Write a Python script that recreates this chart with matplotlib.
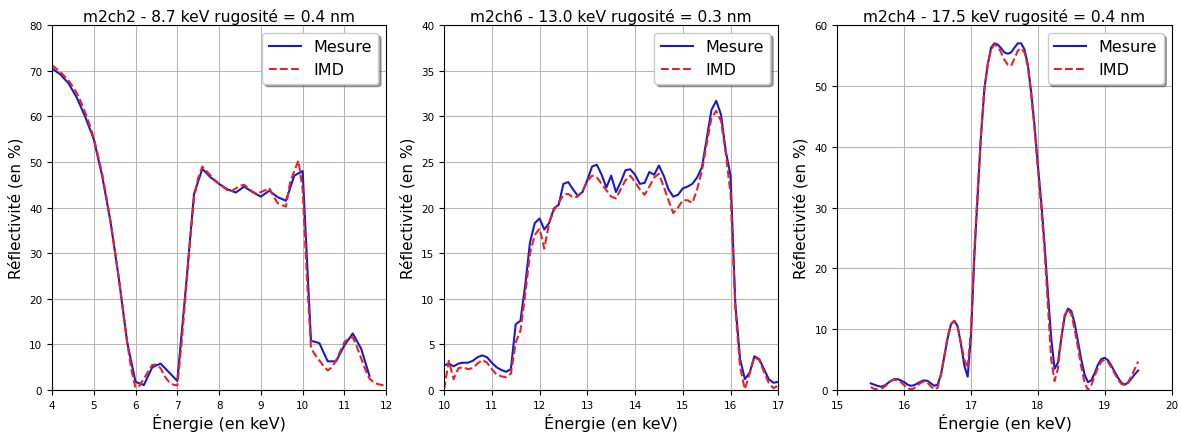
import numpy as np
import matplotlib
matplotlib.use("Agg")
import matplotlib.pyplot as plt

# panneau 1 : m2ch2
titre1 = "m2ch2 - 8.7 keV rugosité = 0.4 nm"
e_mes1 = np.linspace(4.0, 11.6, 39)
r_mes1 = [70.5, 69.2, 67.2, 64.0, 59.8, 55.0, 47.0, 37.0, 24.5, 10.5,
          1.8, 1.1, 5.0, 5.8, 3.9, 2.0, 22.0, 43.0, 48.5, 46.6,
          45.2, 44.0, 43.3, 44.6, 43.4, 42.4, 43.7, 42.3, 41.5, 47.0,
          48.0, 10.8, 10.3, 6.3, 6.3, 9.8, 12.4, 9.1, 3.1]
e_imd1 = np.linspace(4.0, 12.0, 81)
r_imd1 = [71.2, 70.5, 69.7, 68.8, 67.8, 66.5, 65.0, 63.0, 60.7, 58.2,
          55.3, 51.5, 47.5, 42.5, 37.0, 31.0, 24.5, 17.5, 10.5, 4.5,
          0.5, 1.0, 2.5, 4.0, 5.5, 5.6, 4.8, 3.0, 1.8, 1.2,
          1.0, 10.0, 21.0, 32.0, 42.0, 46.5, 49.0, 48.0, 47.0, 46.0,
          45.2, 44.5, 43.8, 43.6, 44.2, 44.8, 45.0, 44.2, 43.5, 43.0,
          43.4, 43.8, 44.3, 42.5, 41.0, 40.6, 40.2, 45.5, 48.0, 50.3,
          44.0, 25.0, 9.2, 7.7, 6.5, 5.3, 4.3, 5.0, 6.5, 8.5,
          10.5, 11.3, 11.6, 9.5, 7.0, 4.5, 2.5, 1.7, 1.3, 1.1,
          1.0]

# panneau 2 : m2ch6
titre2 = "m2ch6 - 13.0 keV rugosité = 0.3 nm"
e2 = np.linspace(10.0, 17.0, 71)
r_mes2 = [2.7, 2.9, 2.6, 2.9, 3.0, 3.0, 3.2, 3.6, 3.8, 3.6,
          3.0, 2.5, 2.2, 2.0, 2.3, 7.2, 7.6, 11.5, 16.2, 18.3,
          18.8, 17.6, 18.3, 19.9, 20.3, 22.6, 22.8, 22.0, 21.3, 21.7,
          23.0, 24.5, 24.7, 23.6, 22.2, 23.5, 21.7, 22.8, 24.1, 24.2,
          23.6, 22.6, 22.7, 23.9, 23.6, 24.6, 23.5, 22.0, 21.2, 21.4,
          22.1, 22.3, 22.6, 23.3, 24.4, 27.5, 30.7, 31.7, 30.2, 26.2,
          23.5, 9.5, 3.4, 1.2, 1.9, 3.7, 3.4, 2.3, 1.2, 0.8,
          0.9]
r_imd2 = [0.1, 3.2, 1.2, 2.4, 2.5, 2.3, 2.4, 2.9, 3.3, 3.0,
          2.3, 1.7, 1.5, 1.4, 1.8, 5.2, 6.5, 10.5, 15.0, 17.0,
          17.7, 15.5, 18.3, 19.7, 20.5, 21.4, 21.5, 21.1, 21.2, 21.8,
          22.9, 23.5, 23.3, 22.6, 21.9, 21.2, 21.0, 22.0, 23.0, 23.5,
          22.8, 22.0, 21.4, 22.3, 23.3, 23.7, 22.3, 20.8, 19.4, 20.0,
          20.8, 20.8, 20.5, 22.0, 24.0, 27.0, 29.8, 30.6, 29.5, 26.0,
          21.5, 9.0, 2.5, 0.1, 1.8, 3.6, 3.3, 2.0, 0.8, 0.2,
          0.5]

# panneau 3 : m2ch4
titre3 = "m2ch4 - 17.5 keV rugosité = 0.4 nm"
e3 = np.linspace(15.5, 19.5, 81)
r_mes3 = [1.1, 0.9, 0.7, 0.55, 0.7, 1.1, 1.5, 1.8, 1.8, 1.6,
          1.3, 0.9, 0.7, 0.8, 1.1, 1.4, 1.6, 1.5, 1.1, 0.7,
          0.9, 2.5, 5.5, 8.5, 10.8, 11.4, 10.5, 7.5, 4.0, 2.2,
          9.0, 22.0, 32.0, 42.0, 49.5, 53.5, 56.3, 57.0, 56.8, 56.2,
          55.5, 55.3, 55.5, 56.3, 57.0, 57.0, 56.0, 53.5, 49.0, 43.5,
          37.0, 31.0, 24.0, 16.0, 8.5, 3.5, 4.5, 8.5, 12.0, 13.4,
          13.0, 11.0, 8.0, 5.0, 2.5, 1.3, 1.6, 2.8, 4.2, 5.1,
          5.3, 4.9, 4.0, 3.0, 2.0, 1.2, 0.9, 1.2, 1.9, 2.6,
          3.2]
r_imd3 = [0.5, 0.2, 0.1, 0.2, 0.5, 1.0, 1.5, 1.7, 1.6, 1.3,
          0.8, 0.3, 0.1, 0.3, 0.8, 1.2, 1.4, 1.2, 0.6, 0.1,
          0.4, 2.5, 5.5, 8.7, 10.9, 11.3, 10.3, 7.8, 5.0, 3.6,
          10.0, 23.0, 33.0, 42.0, 49.5, 53.5, 56.0, 56.8, 56.5, 55.5,
          54.3, 53.5, 53.3, 54.5, 55.8, 56.2, 55.5, 53.2, 48.5, 43.0,
          36.5, 30.0, 23.0, 14.0, 5.0, 1.5, 3.5, 8.5, 12.3, 13.3,
          12.5, 10.0, 7.0, 3.8, 1.2, 0.0, 0.8, 2.3, 3.7, 4.7,
          5.0, 4.6, 3.7, 2.7, 1.7, 1.0, 0.8, 1.3, 2.3, 3.5,
          4.7]

panneaux = [
    (titre1, e_mes1, r_mes1, e_imd1, r_imd1, (4, 12), (0, 80), 10),
    (titre2, e2, r_mes2, e2, r_imd2, (10, 17), (0, 40), 5),
    (titre3, e3, r_mes3, e3, r_imd3, (15, 20), (0, 60), 10),
]

fig = plt.figure(figsize=(11.81, 4.35), dpi=100)
lefts = [0.044, 0.376, 0.709]
for left, (titre, em, rm, ei, ri, xl, yl, pas) in zip(lefts, panneaux):
    ax = fig.add_axes([left, 0.101, 0.283, 0.839])
    ax.plot(em, rm, color="#1a1acc", lw=1.5, label="Mesure")
    ax.plot(ei, ri, "--", color="#e8202a", lw=1.5, label="IMD")
    ax.set_xlim(*xl)
    ax.set_ylim(*yl)
    ax.set_xticks(np.arange(xl[0], xl[1] + 1, 1))
    ax.set_yticks(np.arange(yl[0], yl[1] + pas, pas))
    ax.tick_params(labelsize=7.5)
    ax.grid(True, color="#b8b8b8", lw=0.8)
    ax.set_title(titre, fontsize=11.2, pad=3)
    ax.set_xlabel("Énergie (en keV)", fontsize=11.5, labelpad=2)
    ax.set_ylabel("Réflectivité (en %)", fontsize=11, labelpad=4)
    ax.legend(loc="upper right", fontsize=11.5, shadow=True, fancybox=True)

fig.savefig("out.png", dpi=100)
